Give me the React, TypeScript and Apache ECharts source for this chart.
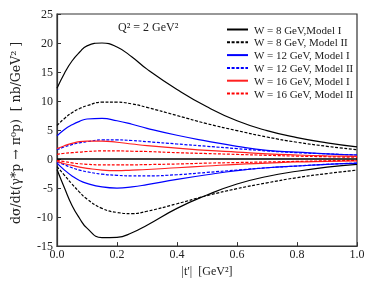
import React, { useEffect, useRef } from "react";
import * as echarts from "echarts";

const T = [0, 0.025, 0.05, 0.075, 0.1, 0.15, 0.2, 0.25, 0.3, 0.4, 0.5, 0.6, 0.7, 0.8, 0.9, 1.0];

const W8_I_POS = [12.2, 14.8, 16.9, 18.4, 19.5, 20.0, 19.3, 17.6, 15.5, 12.0, 9.0, 6.6, 4.9, 3.7, 2.8, 2.1];
const W8_II_POS = [5.8, 7.0, 8.0, 8.7, 9.2, 9.8, 9.8, 9.5, 8.9, 7.5, 6.1, 4.9, 3.8, 2.9, 2.2, 1.6];
const W12_I_POS = [4.0, 5.1, 5.9, 6.5, 6.9, 7.0, 6.6, 6.0, 5.3, 4.1, 3.1, 2.2, 1.5, 1.2, 0.9, 0.7];
const W12_II_POS = [1.6, 2.1, 2.5, 2.8, 3.0, 3.3, 3.3, 3.2, 3.0, 2.6, 2.2, 1.8, 1.4, 1.1, 0.9, 0.7];
const W16_I_POS = [1.8, 2.3, 2.7, 3.0, 3.1, 3.1, 2.9, 2.6, 2.3, 1.9, 1.5, 1.2, 0.9, 0.7, 0.55, 0.45];
const W16_II_POS = [0.8, 1.0, 1.1, 1.2, 1.3, 1.4, 1.4, 1.35, 1.3, 1.1, 0.95, 0.8, 0.65, 0.5, 0.4, 0.3];

const W8_I_NEG = [-1.8, -5.0, -8.0, -10.2, -11.9, -13.55, -13.5, -12.7, -11.4, -8.5, -6.2, -4.3, -3.0, -2.1, -1.4, -0.9];
const W8_II_NEG = [-1.3, -2.8, -4.3, -5.7, -6.9, -8.5, -9.2, -9.4, -9.0, -7.7, -6.3, -5.1, -4.1, -3.2, -2.5, -1.9];
const W12_I_NEG = [-0.7, -1.9, -2.9, -3.7, -4.2, -4.8, -5.0, -4.8, -4.4, -3.5, -2.7, -2.0, -1.5, -1.2, -0.9, -0.75];
const W12_II_NEG = [-0.5, -1.0, -1.5, -1.9, -2.2, -2.6, -2.8, -2.9, -2.9, -2.7, -2.3, -1.9, -1.5, -1.2, -0.9, -0.7];
const W16_I_NEG = [-0.4, -0.8, -1.1, -1.4, -1.6, -1.9, -2.0, -1.9, -1.8, -1.5, -1.2, -0.9, -0.7, -0.5, -0.4, -0.3];
const W16_II_NEG = [-0.2, -0.45, -0.65, -0.8, -0.9, -1.0, -1.0, -1.0, -0.95, -0.85, -0.7, -0.6, -0.5, -0.4, -0.3, -0.2];

const NAMES = [
  "W = 8 GeV,Model I",
  "W = 8 GeV, Model II",
  "W = 12 GeV, Model I",
  "W = 12 GeV, Model II",
  "W = 16 GeV, Model I",
  "W = 16 GeV, Model II",
];
const COLORS = ["#000000", "#000000", "#0000ff", "#0000ff", "#ff2020", "#ff0000"];
const DASHED = [false, true, false, true, false, true];
const POS = [W8_I_POS, W8_II_POS, W12_I_POS, W12_II_POS, W16_I_POS, W16_II_POS];
const NEG = [W8_I_NEG, W8_II_NEG, W12_I_NEG, W12_II_NEG, W16_I_NEG, W16_II_NEG];

const X_MIN = 0;
const X_MAX = 1;
const Y_MIN = -15;
const Y_MAX = 25;

const FONT = "Liberation Serif";

export default function App() {
  const ref = useRef<HTMLDivElement>(null);
  useEffect(() => {
    if (!ref.current) return;
    const chart = echarts.init(ref.current, undefined, { renderer: "svg" });
    const series: any[] = [];
    for (let i = 0; i < NAMES.length; i++) {
      const mk = (vals: number[]) => ({
        type: "line",
        name: NAMES[i],
        data: T.map((t, k) => [t, vals[k]]),
        smooth: 0.5,
        symbol: "none",
        showSymbol: false,
        lineStyle: {
          color: COLORS[i],
          width: 1.2,
          type: DASHED[i] ? [3, 1.6] : "solid",
        },
        itemStyle: { color: COLORS[i] },
        z: 3,
      });
      series.push(mk(POS[i]));
      series.push(mk(NEG[i]));
    }
    series[0].markLine = {
      silent: true,
      symbol: "none",
      label: { show: false },
      lineStyle: { color: "#000", type: "solid", width: 1.6 },
      data: [{ yAxis: 0 }],
    };
    chart.setOption({
      animation: false,
      grid: {
        left: 57,
        right: 19,
        top: 14,
        bottom: 34,
        show: true,
        borderColor: "#333",
        borderWidth: 1.2,
        backgroundColor: "transparent",
      },
      legend: {
        orient: "vertical",
        left: 221,
        top: 19,
        itemWidth: 21,
        itemHeight: 12,
        itemGap: 1.8,
        data: NAMES,
        itemStyle: { color: "transparent", borderWidth: 0, opacity: 0 },
        textStyle: { fontFamily: FONT, fontSize: 11, color: "#222", padding: [0, 0, 0, 1] },
        selectedMode: false,
      },
      xAxis: {
        type: "value",
        min: X_MIN,
        max: X_MAX,
        interval: 0.2,
        name: "|t′|  [GeV²]",
        nameLocation: "middle",
        nameGap: 12,
        nameTextStyle: { fontFamily: FONT, fontSize: 12, color: "#222" },
        axisLine: { show: true, onZero: false, lineStyle: { color: "#333", width: 1.2 } },
        axisTick: { show: true, inside: true, length: 4, lineStyle: { color: "#333" } },
        axisLabel: {
          fontFamily: FONT,
          fontSize: 12,
          color: "#222",
          margin: 2,
          formatter: (v: number) => v.toFixed(1),
        },
        splitLine: { show: false },
      },
      yAxis: {
        type: "value",
        min: Y_MIN,
        max: Y_MAX,
        interval: 5,
        axisLine: { show: true, onZero: false, lineStyle: { color: "#333", width: 1.2 } },
        axisTick: { show: true, inside: true, length: 4, lineStyle: { color: "#333" } },
        axisLabel: { fontFamily: FONT, fontSize: 12, color: "#222", margin: 4 },
        splitLine: { show: false },
      },
      graphic: [
        {
          type: "text",
          left: 118,
          top: 21,
          style: { text: "Q² = 2 GeV²", fontFamily: FONT, fontSize: 12, fill: "#222" },
        },
        {
          type: "text",
          x: 15,
          y: 133,
          rotation: Math.PI / 2,
          style: {
            text: "dσ/dt(γ*p → π⁰p)  [ nb/GeV² ]",
            fontFamily: "DejaVu Serif",
            fontSize: 12.5,
            fill: "#222",
            align: "center",
            verticalAlign: "middle",
          },
        },
      ],
      series,
    });
    return () => chart.dispose();
  }, []);
  return (
    <div
      ref={ref}
      style={{ position: "fixed", left: 0, top: 0, width: 376, height: 282 }}
    />
  );
}
